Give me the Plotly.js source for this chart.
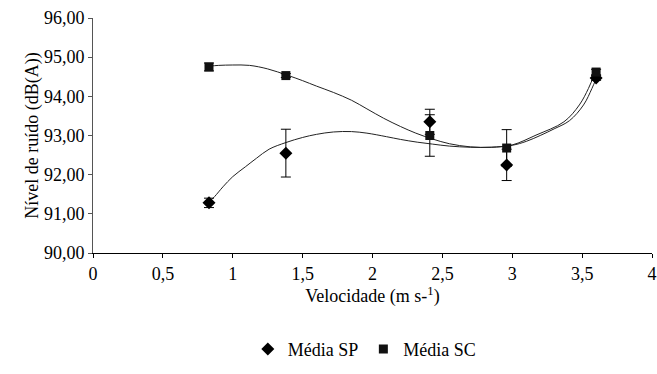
<!DOCTYPE html>
<html>
<head>
<meta charset="utf-8">
<script src="https://cdn.plot.ly/plotly-3.0.1.min.js"></script>
<style>html,body{margin:0;padding:0;background:#fff;}#chart{width:657px;height:374px;}</style>
</head>
<body>
<div id="chart"></div>
<script>
// Measured points
const velocity = [0.83, 1.38, 2.41, 2.96, 3.60];
const mediaSP = [91.28, 92.55, 93.35, 92.25, 94.47];
const errSP = [0.12, 0.61, 0.32, 0.40, 0.06];
const mediaSC = [94.75, 94.53, 93.00, 92.68, 94.62];
const errSC = [0.10, 0.05, 0.53, 0.47, 0.07];

// Trend curves
const curveSPx = [0.83, 0.87, 0.93, 1.0, 1.09, 1.17, 1.26, 1.38, 1.5, 1.6, 1.72, 1.85, 1.96, 2.1, 2.2, 2.32, 2.43, 2.55, 2.7, 2.85, 3.0, 3.1, 3.2, 3.3, 3.41, 3.51, 3.57, 3.6];
const curveSPy = [91.30, 91.44, 91.69, 91.95, 92.20, 92.42, 92.65, 92.82, 92.95, 93.03, 93.09, 93.10, 93.06, 92.97, 92.90, 92.83, 92.78, 92.73, 92.70, 92.70, 92.75, 92.85, 93.00, 93.17, 93.38, 93.78, 94.20, 94.45];
const curveSCx = [0.83, 0.9, 1.0, 1.12, 1.25, 1.39, 1.5, 1.6, 1.72, 1.85, 1.96, 2.08, 2.2, 2.31, 2.43, 2.55, 2.7, 2.85, 3.0, 3.17, 3.37, 3.48, 3.545, 3.59];
const curveSCy = [94.77, 94.79, 94.80, 94.79, 94.70, 94.54, 94.40, 94.26, 94.10, 93.90, 93.68, 93.44, 93.23, 93.06, 92.91, 92.79, 92.71, 92.70, 92.76, 93.01, 93.35, 93.78, 94.20, 94.58];

const xTicks = [0, 0.5, 1, 1.5, 2, 2.5, 3, 3.5, 4];
const yTicks = [90, 91, 92, 93, 94, 95, 96];

const font = {family: 'Liberation Serif', size: 18, color: '#000'};

const traces = [
  {x: curveSPx, y: curveSPy, mode: 'lines', line: {color: '#222', width: 1, shape: 'spline'}, showlegend: false, hoverinfo: 'skip'},
  {x: curveSCx, y: curveSCy, mode: 'lines', line: {color: '#222', width: 1, shape: 'spline'}, showlegend: false, hoverinfo: 'skip'},
  {x: velocity, y: mediaSP, name: 'Média SP', mode: 'markers',
   marker: {symbol: 'diamond', size: 10, color: '#000'},
   error_y: {type: 'data', array: errSP, visible: true, color: '#000', thickness: 1, width: 5}},
  {x: velocity, y: mediaSC, name: 'Média SC', mode: 'markers',
   marker: {symbol: 'square', size: 9, color: '#111'},
   error_y: {type: 'data', array: errSC, visible: true, color: '#000', thickness: 1, width: 5}}
];

const layout = {
  width: 657, height: 374,
  margin: {l: 93, r: 5, t: 18, b: 121},
  paper_bgcolor: '#fff', plot_bgcolor: '#fff',
  separators: ',.',
  font: font,
  showlegend: true,
  legend: {orientation: 'h', x: 0.277, xanchor: 'left', y: -0.41, yanchor: 'middle', font: font,
           itemwidth: 30, itemgap: 0},
  xaxis: {
    range: [0, 4], tickvals: xTicks, ticktext: xTicks.map(v => String(v).replace('.', ',')),
    showgrid: false, zeroline: false, showline: true, linecolor: '#000', linewidth: 1,
    ticks: 'outside', ticklen: 4, tickcolor: '#000', tickfont: font,
    title: {text: 'Velocidade (m s-<sup>1</sup>)', font: font, standoff: 6}
  },
  yaxis: {
    range: [90, 96], tickvals: yTicks, tickformat: '.2f',
    showgrid: false, zeroline: false, showline: true, linecolor: '#555', linewidth: 1,
    ticks: 'outside', ticklen: 4, tickcolor: '#555', tickfont: font,
    title: {text: 'Nível de ruído (dB(A))', font: font, standoff: 0}
  }
};

Plotly.newPlot('chart', traces, layout, {displayModeBar: false, staticPlot: true});
</script>
</body>
</html>
